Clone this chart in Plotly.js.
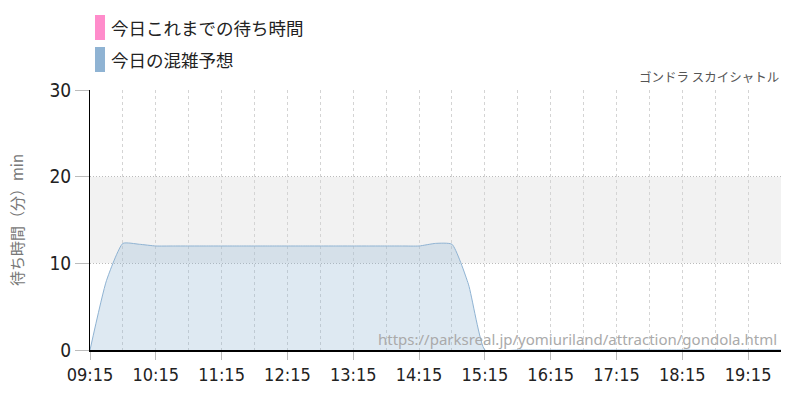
<!DOCTYPE html>
<html><head><meta charset="utf-8">
<script src="https://cdn.plot.ly/plotly-3.0.1.min.js"></script>
<style>html,body{margin:0;padding:0;background:#fff}#c{width:800px;height:400px}</style>
</head><body><div id="c"></div>
<script>
const day = '2024-01-01 ';
const times = ['09:15','09:30','09:45','10:00','10:15','10:30','10:45','11:00','11:15','11:30','11:45','12:00','12:15','12:30','12:45','13:00','13:15','13:30','13:45','14:00','14:15','14:30','14:45','15:00','15:15','15:30','15:45','16:00','16:15','16:30','16:45','17:00','17:15','17:30','17:45','18:00','18:15','18:30','18:45','19:00','19:15','19:30','19:45'];
const forecast = [0,8.0,12.3,12.2,12.0,12.0,12.0,12.0,12.0,12.0,12.0,12.0,12.0,12.0,12.0,12.0,12.0,12.0,12.0,12.0,12.0,12.3,12.2,7.6,0,-0.1,0,0,0,0,0,0,0,0,0,0,0,0,0,0,0,0,0];
const actual = [];
const legendLabels = ['今日これまでの待ち時間','今日の混雑予想'];
const legendColors = ['#ff8ccb','#8fb3d3'];
const attractionName = 'ゴンドラ スカイシャトル';
const sourceUrl = 'https://parksreal.jp/yomiuriland/attraction/gondola.html';
const yTitle = '待ち時間（分）min';

const tickFont = '"DejaVu Sans Condensed", "Liberation Sans Narrow", Roboto, sans-serif';
const xs = times.map(t => day + t);
const traces = [
  {x: xs, y: forecast, type: 'scatter', mode: 'lines', line: {color: '#8fb3d3', width: 1, shape: 'spline', smoothing: 0.5},
   fill: 'tozeroy', fillcolor: 'rgba(143,179,211,0.29)', hoverinfo: 'skip', name: legendLabels[1]},
  {x: actual.map(t => day + t), y: [], type: 'scatter', mode: 'lines', line: {color: '#ff8ccb'}, name: legendLabels[0]}
];

const shapes = [
  {type: 'rect', xref: 'paper', yref: 'y', x0: 0, x1: 1, y0: 10, y1: 20, fillcolor: '#f2f2f2', line: {width: 0}, layer: 'below'},
  {type: 'rect', xref: 'paper', yref: 'paper', x0: (95-90)/691, x1: (105-90)/691, y0: (400-40-50)/260, y1: (400-15-50)/260, fillcolor: legendColors[0], line: {width: 0}},
  {type: 'rect', xref: 'paper', yref: 'paper', x0: (95-90)/691, x1: (105-90)/691, y0: (400-72-50)/260, y1: (400-47-50)/260, fillcolor: legendColors[1], line: {width: 0}}
];
const annotations = [
  {xref: 'paper', yref: 'paper', x: (109-90)/691, y: (400-28-50)/260, xanchor: 'left', yanchor: 'middle', text: legendLabels[0], showarrow: false, font: {family: 'Noto Sans CJK JP', size: 17.5, color: '#222'}},
  {xref: 'paper', yref: 'paper', x: (109-90)/691, y: (400-60-50)/260, xanchor: 'left', yanchor: 'middle', text: legendLabels[1], showarrow: false, font: {family: 'Noto Sans CJK JP', size: 17.5, color: '#222'}},
  {xref: 'paper', yref: 'paper', x: 1, y: (400-77-50)/260, xanchor: 'right', yanchor: 'middle', text: attractionName, showarrow: false, font: {family: 'Noto Sans CJK JP', size: 12.5, color: '#555'}},
  {xref: 'paper', yref: 'paper', x: (779-90)/691, y: (400-339-50)/260, xanchor: 'right', yanchor: 'middle', text: sourceUrl, showarrow: false, font: {family: 'Noto Sans', size: 15, color: '#aaa'}}
];

const layout = {
  width: 800, height: 400,
  margin: {l: 90, r: 19, t: 90, b: 50},
  paper_bgcolor: '#fff', plot_bgcolor: '#fff',
  showlegend: false,
  xaxis: {
    type: 'date', range: [day + '09:15', day + '19:45'],
    tick0: day + '09:15', dtick: 3600000, tickformat: '%H:%M',
    ticks: 'outside', ticklen: 8, tickcolor: '#bbb',
    showgrid: true, gridcolor: '#d4d4d4', griddash: '3px,3px', gridwidth: 1,
    minor: {dtick: 1800000, tick0: day + '09:15', showgrid: true, gridcolor: '#d4d4d4', griddash: '3px,3px', gridwidth: 1},
    showline: true, linecolor: '#000', linewidth: 1.5,
    tickfont: {family: tickFont, size: 18, color: '#222'},
    zeroline: false, fixedrange: true
  },
  yaxis: {
    range: [0, 30], tickvals: [0, 10, 20, 30],
    ticks: 'outside', ticklen: 14, tickcolor: '#bbb',
    showgrid: true, gridcolor: '#bbb', griddash: '1px,2px', gridwidth: 1,
    showline: true, linecolor: '#000', linewidth: 1,
    zeroline: false,
    tickfont: {family: tickFont, size: 19, color: '#222'},
    title: {text: yTitle, font: {family: 'Noto Sans CJK JP', size: 15, color: '#777'}, standoff: 22},
    fixedrange: true
  },
  shapes: shapes,
  annotations: annotations
};
Plotly.newPlot('c', traces, layout, {displayModeBar: false, staticPlot: true});
</script>
</body></html>
